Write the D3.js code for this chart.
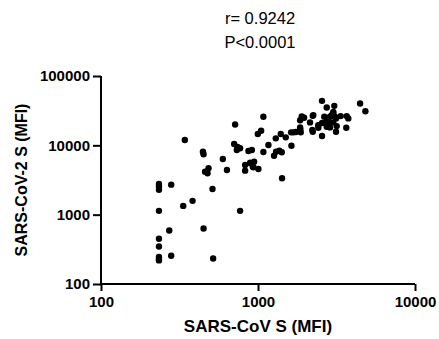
<!DOCTYPE html>
<html>
<head>
<meta charset="utf-8">
<script src="https://cdn.jsdelivr.net/npm/d3@7"></script>
<style>
  body { margin: 0; background: #fff; }
  svg text { font-family: Arial, "Liberation Sans", sans-serif; }
</style>
</head>
<body>
<div id="chart"></div>
<script>
// SARS-CoV S (MFI) vs SARS-CoV-2 S (MFI), one entry per sample
const covS = [
  234, 234, 234, 234, 234, 234, 234, 234, 234,
  280, 272, 280, 334, 383, 342, 450, 518, 513,
  446, 450, 460, 477, 484, 597, 634,
  715, 705, 733, 769, 740, 769,
  869, 914, 828, 828, 891, 945, 927, 1006, 900, 935,
  1082, 997, 1047, 1082, 1165, 1298, 1396, 1265, 1303, 1417, 1368,
  1502, 1633, 1423, 1625, 1680, 1741, 1855, 1872, 1860, 1900, 1966,
  2250, 2145, 2218, 2233, 2423, 2557, 2557, 2740, 3062, 4470, 4830,
  2645, 2740, 2875, 2946, 3018, 3093, 2875, 3018, 3140, 3172, 2875,
  3140, 3362, 3672, 3759, 3650, 2740, 2233, 1855, 3018, 2560, 2420
];
const cov2S = [
  2780, 2540, 2280, 1135, 449, 348, 245, 229, 219,
  2710, 590, 255, 1339, 1581, 11920, 631, 233, 2350,
  8090, 7430, 4170, 3955, 4670, 6350, 4415,
  20000, 10440, 8560, 9060, 9500, 1135,
  8280, 8560, 5210, 4315, 5620, 5810, 4920, 4560, 5510, 4820,
  8010, 14540, 16200, 25800, 10100, 12600, 14540, 7080, 8090, 7930, 8360,
  13030, 9860, 3350, 15380, 15400, 15600, 18150, 15380, 17000, 26000, 25000,
  27300, 21400, 16600, 15700, 17900, 13600, 43800, 35200, 37100, 40200, 31000,
  25800, 21860, 25800, 27300, 28850, 25800, 21150, 21400, 24450, 18950, 18150,
  15700, 26400, 26400, 24450, 17900, 18530, 26600, 23000, 30400, 21000, 19500
];
const xTicks = [100, 1000, 10000];
const yTicks = [100, 1000, 10000, 100000];
const statLines = ["r= 0.9242", "P<0.0001"];

const W = 439, H = 339;
const margin = { top: 76, right: 24, bottom: 55, left: 101 };

const svg = d3.select("#chart").append("svg")
  .attr("width", W).attr("height", H);

const x = d3.scaleLog().domain([100, 10000]).range([margin.left, W - margin.right]);
const y = d3.scaleLog().domain([100, 100000]).range([H - margin.bottom, margin.top]);

// r / P annotation
svg.append("g").selectAll("text")
  .data(statLines)
  .join("text")
  .attr("x", 260)
  .attr("y", (d, i) => 24 + i * 24)
  .attr("text-anchor", "middle")
  .style("font-size", "16.5px")
  .text(d => d);

const fmt = d => String(d);

const xAxis = svg.append("g")
  .attr("transform", `translate(0,${H - margin.bottom})`)
  .call(d3.axisBottom(x).tickValues(xTicks).tickFormat(fmt).tickSize(7).tickPadding(5.5));

const yAxis = svg.append("g")
  .attr("transform", `translate(${margin.left},0)`)
  .call(d3.axisLeft(y).tickValues(yTicks).tickFormat(fmt).tickSize(8).tickPadding(3));

[xAxis, yAxis].forEach(a => {
  a.select(".domain").attr("stroke", "#000").attr("stroke-width", 2)
    .attr("d", a === xAxis ? `M${margin.left},0H${W - margin.right}` : `M0,${margin.top}V${H - margin.bottom}`);
  a.selectAll(".tick line").attr("stroke", "#000").attr("stroke-width", 2);
  a.selectAll(".tick text")
    .attr("fill", "#000")
    .style("font-size", "15px")
    .style("font-weight", "bold")
    .style("font-family", "Arial, 'Liberation Sans', sans-serif");
});

// axis titles
svg.append("text")
  .attr("x", 258)
  .attr("y", 332)
  .attr("text-anchor", "middle")
  .style("font-size", "17px")
  .style("font-weight", "bold")
  .text("SARS-CoV S (MFI)");

svg.append("text")
  .attr("transform", `translate(27,${(margin.top + H - margin.bottom) / 2}) rotate(-90)`)
  .attr("text-anchor", "middle")
  .style("font-size", "16px")
  .style("font-weight", "bold")
  .text("SARS-CoV-2 S (MFI)");

// points
svg.append("g").selectAll("circle")
  .data(covS.map((v, i) => [v, cov2S[i]]))
  .join("circle")
  .attr("cx", d => x(d[0]))
  .attr("cy", d => y(d[1]))
  .attr("r", 3.2)
  .attr("fill", "#000");
</script>
</body>
</html>
